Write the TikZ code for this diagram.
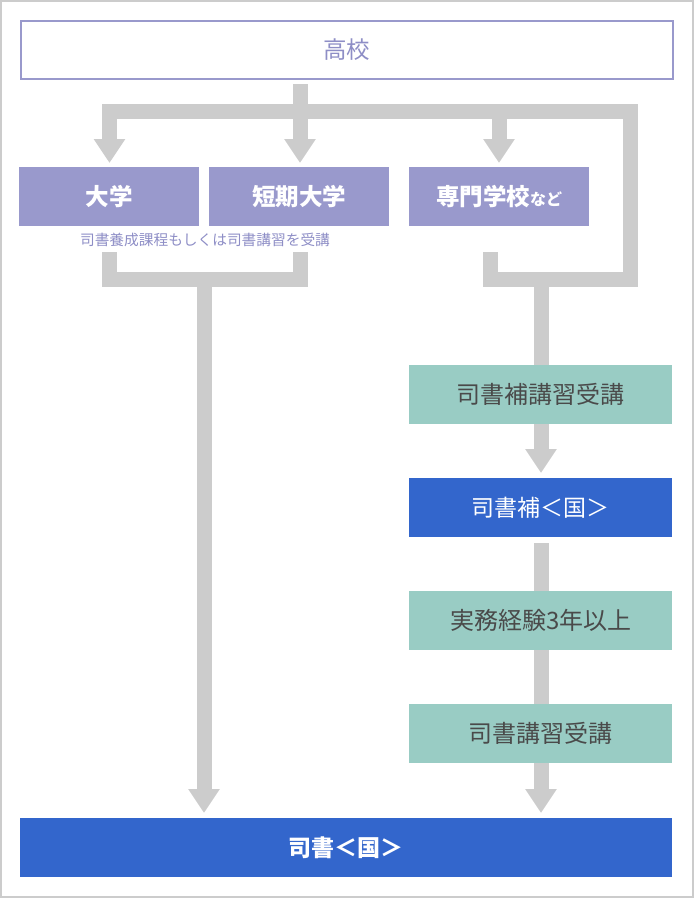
\documentclass[tikz,border=0pt]{standalone}
\usepackage{fontspec}
\setmainfont{Noto Sans CJK JP}
\usetikzlibrary{arrows.meta}
\definecolor{lav}{HTML}{9999CC}
\definecolor{lavtxt}{HTML}{8E8EC6}
\definecolor{teal2}{HTML}{99CCC4}
\definecolor{blue2}{HTML}{3366CC}
\definecolor{conn}{HTML}{CCCCCC}
\definecolor{txtgray}{HTML}{4A4A4A}
\tikzset{
  box/.style={minimum height=59pt, inner sep=0pt, anchor=north west},
  lavbox/.style={box, fill=lav, text=white, font=\fontsize{23.5pt}{26pt}\selectfont\bfseries, minimum width=180pt},
  tealbox/.style={box, fill=teal2, text=txtgray, font=\fontsize{24pt}{28pt}\selectfont, minimum width=263pt},
  bluebox/.style={box, fill=blue2, text=white},
  pipe/.style={draw=conn, line width=15pt, line cap=butt, line join=miter},
  arr/.style={pipe, -{Triangle[width=30pt,length=24pt]}},
}
\begin{document}
\begin{tikzpicture}[x=1pt,y=-1pt]
\useasboundingbox (0,0) rectangle (694,898);
\draw[conn, line width=2pt] (1,1) rectangle (693,897);

% nodes
\node[box, draw=lav, line width=1.5pt, fill=white, minimum width=652pt, minimum height=58pt, text=lavtxt,
  font=\fontsize{23.5pt}{26pt}\selectfont] (kokou) at (20,20) {高校};
\node[lavbox] (daigaku) at (19,167) {大学};
\node[lavbox] (tandai) at (209,167) {短期大学};
\node[lavbox] (senmon) at (409,167) {専門学校{\fontsize{16pt}{18pt}\selectfont など}};
\node[text=lavtxt, font=\fontsize{14.7pt}{17pt}\selectfont, inner sep=0pt] (note) at (205,240) {司書養成課程もしくは司書講習を受講};

% connector coordinates
\coordinate (kb) at (300,84);
\coordinate (barL) at (102,111.5);
\coordinate (c1) at (109.5,111.5);
\coordinate (c2) at (300,111.5);
\coordinate (c3) at (499,111.5);
\coordinate (barR) at (630,111.5);
\coordinate (t1) at (109.5,163);
\coordinate (t2) at (300,163);
\coordinate (t3) at (499,163);
\coordinate (rb) at (630,279.5);
\coordinate (sb) at (490.5,279.5);
\coordinate (s0) at (490.5,252);
\coordinate (r0) at (541,279.5);
\coordinate (rt) at (541,473);
\coordinate (d0) at (109.5,252);
\coordinate (d1) at (109.5,279.5);
\coordinate (k1) at (300,279.5);
\coordinate (k0) at (300,252);
\coordinate (m0) at (204,279.5);
\coordinate (mt) at (204,813);
\coordinate (h0) at (541,543);
\coordinate (ht) at (541,813);

\draw[arr] (kb) -- (t2);
\draw[pipe] (barL) -- (barR) -- (rb) -- (sb) -- (s0);
\draw[arr] (c1) -- (t1);
\draw[arr] (c3) -- (t3);
\draw[arr] (r0) -- (rt);
\draw[pipe] (d0) -- (d1) -- (k1) -- (k0);
\draw[arr] (m0) -- (mt);
\draw[arr] (h0) -- (ht);

% right column
\node[tealbox] (hoshu) at (409,365) {司書補講習受講};
\node[bluebox, minimum width=263pt, font=\fontsize{23pt}{26pt}\selectfont] (shishoho) at (409,478) {司書補＜国＞};
\node[tealbox] (jitsumu) at (409,591) {実務経験3年以上};
\node[tealbox] (koshu) at (409,704) {司書講習受講};
\node[bluebox, minimum width=652pt, font=\fontsize{23pt}{26pt}\selectfont\bfseries] (shisho) at (20,818) {司書＜国＞};
\end{tikzpicture}
\end{document}
